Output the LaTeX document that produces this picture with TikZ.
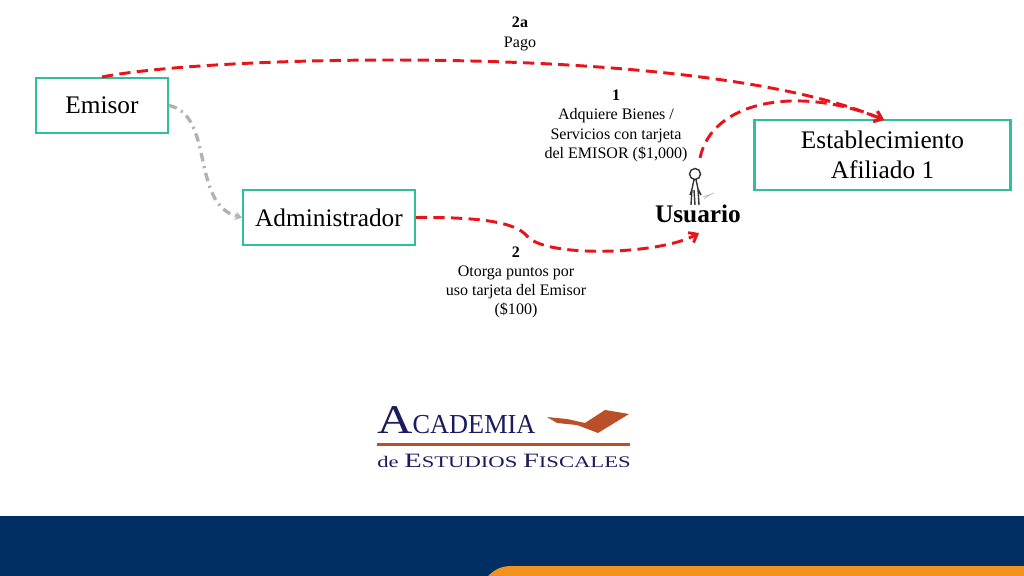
\documentclass[tikz,border=0pt]{standalone}
\usepackage{fontspec}
\usepackage{graphicx}
\setmainfont{Liberation Serif}
\usetikzlibrary{arrows.meta}
\definecolor{cajaverde}{HTML}{2DBFA0}
\definecolor{rojoflecha}{HTML}{E8141C}
\definecolor{azulbanda}{HTML}{002F63}
\definecolor{naranjabanda}{HTML}{F3931F}
\definecolor{azullogo}{HTML}{1B1B5E}
\definecolor{cafelogo}{HTML}{B9502A}
\newcommand{\logoletra}[2]{\scalebox{#1}[1]{#2}}
\begin{document}
\begin{tikzpicture}[x=0.025cm,y=-0.025cm]
	\tikzset{
		caja/.style={draw=cajaverde,line width=1.5pt,align=center,font=\fontsize{18}{21.5}\selectfont,inner sep=0pt},
		nota/.style={align=center,font=\fontsize{11.4}{13.7}\selectfont,inner sep=0pt},
		pago/.style={rojoflecha,line width=2.1pt,dash pattern=on 8pt off 4.5pt,-{Straight Barb[length=5pt,width=8pt,line width=2.1pt]}},
		flujo/.style={gray!60,line width=2.4pt,dash pattern=on 6pt off 3.5pt on 1.5pt off 3.5pt,-{Stealth[length=5pt,width=6pt]}},
		pics/monigote/.style args={#1}{code={
			\draw[line width=#1,black!80] (0,0) circle (5.5)
			(-1,5.5) -- (-3,15) -- (-4,31) (1,5.5) -- (3,15) -- (4,31)
			(-3,15) -- (-5,21) (3,15) -- (6,21) (-1,16) -- (0,31);
			\draw[gray!50,line width=0.6pt] (8,23) -- (19,19) (9,25) -- (16,20);
		},
		}
	}
	\useasboundingbox (0,0) rectangle (1024,576);

	%banda
	\fill[azulbanda] (0,516) rectangle (1024,576);
	\fill[naranjabanda] (488,576) .. controls (495,569) and (502,566) .. (512,566) -- (1024,566) -- (1024,576) -- cycle;

	%cajas
	\node[caja,minimum width=93.5pt,minimum height=39pt] (emisor) at (102,105.5) {Emisor};
	\node[caja,minimum width=122pt,minimum height=39pt] (admin) at (329,217.5) {Administrador};
	\node[caja,minimum width=182pt,minimum height=49.5pt] (estab) at (882.5,155) {Establecimiento\\Afiliado 1};

	%usuario
	\draw (695,174) pic {monigote={1pt}};
	\node[font=\fontsize{18}{21}\selectfont\bfseries,inner sep=0pt] (usuario) at (698,214) {Usuario};
	\coordinate (usrarriba) at (700,158);
	\coordinate (usrabajo) at (699,233);
	\coordinate (estabtop) at (884,120);

	%flechas
	\draw[pago] (emisor.north) .. controls (210,55) and (700,42) .. (estabtop);
	\draw[pago] (usrarriba) .. controls (712,100) and (800,85) .. (estabtop);
	\draw[pago] (admin.east) .. controls (480,217) and (515,222) .. (527,236)
		.. controls (545,258) and (660,255) .. (usrabajo);
	\draw[flujo] (emisor.east) .. controls (215,115) and (190,205) .. (admin.west);

	%textos
	\node[nota] (pago) at (520,34) {\textbf{2a}\\Pago};
	\node[nota] (adquiere) at (616,126) {\textbf{1}\\Adquiere Bienes /\\Servicios con tarjeta\\del EMISOR (\$1,000)};
	\node[nota] (puntos) at (516,282.5) {\textbf{2}\\Otorga puntos por\\uso tarjeta del Emisor\\(\$100)};

	%logo
	\node[anchor=base west,inner sep=0pt,text=azullogo,font=\fontsize{19.5}{20}\selectfont] (academia) at (377,433.5) {\logoletra{1.2}{\fontsize{29}{30}\selectfont A}\logoletra{0.96}{CADEMIA}};
	\fill[cafelogo] (547,417) -- (567,419) -- (585,423) -- (605,410) -- (629,414) -- (598,433) -- (577,425) -- (557,423) -- cycle;
	\draw[cafelogo,line width=1.6pt] (377,444.5) -- (630,444.5);
	\node[anchor=base west,inner sep=0pt,text=azullogo,font=\fontsize{11.5}{12}\selectfont] (estudios) at (377,467) {\logoletra{1.4}{de \fontsize{14.5}{15}\selectfont E\fontsize{11.5}{12}\selectfont STUDIOS \fontsize{14.5}{15}\selectfont F\fontsize{11.5}{12}\selectfont ISCALES}};
\end{tikzpicture}
\end{document}
